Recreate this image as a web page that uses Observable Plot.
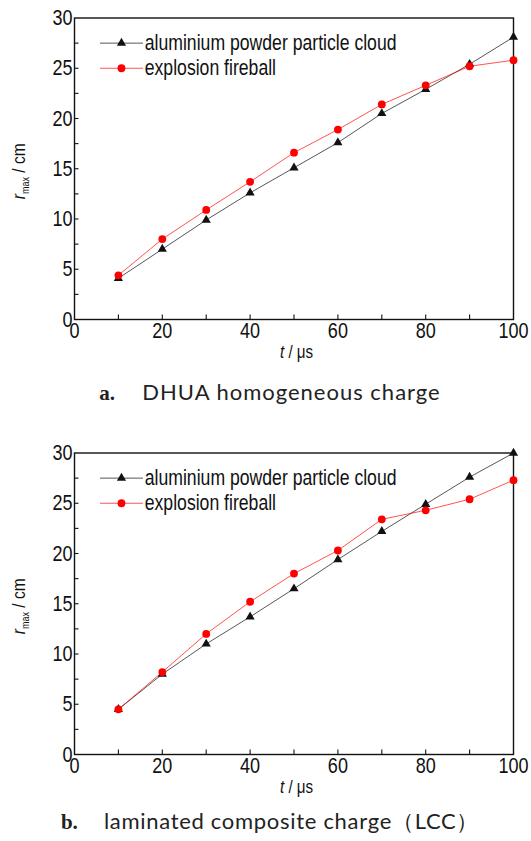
<!DOCTYPE html>
<html><head><meta charset="utf-8">
<script src="https://cdn.jsdelivr.net/npm/d3@7"></script>
<script src="https://cdn.jsdelivr.net/npm/@observablehq/plot@0.6"></script>
<style>
body{margin:0;background:#fff;}
#wrap{position:relative;width:531px;height:841px;overflow:hidden;background:#fff;}
.chart{position:absolute;left:0;}
.cap{position:absolute;left:0;width:540px;text-align:center;white-space:nowrap;font-family:Lato,"Open Sans",sans-serif;font-size:22px;color:#222;letter-spacing:1px;line-height:26px;}
.cap .lab{display:inline-block;width:43px;text-align:left;font-family:"Liberation Serif","Times New Roman",serif;font-weight:bold;letter-spacing:0;font-size:21px;}
</style></head><body>
<div id="wrap">
  <div class="chart" id="chartA" style="top:0px"></div>
  <div class="cap" style="top:379px"><span class="lab">a.</span>DHUA homogeneous charge</div>
  <div class="chart" id="chartB" style="top:435px"></div>
  <div class="cap" style="top:808px;letter-spacing:0.7px"><span class="lab">b.</span>laminated composite charge（LCC）</div>
</div>
<script>
// ---- data ----
const times = [10, 20, 30, 40, 50, 60, 70, 80, 90, 100];
const cloudA = [4.1, 7.0, 9.9, 12.6, 15.1, 17.6, 20.5, 22.9, 25.4, 28.1];
const fireA  = [4.4, 8.0, 10.9, 13.7, 16.6, 18.9, 21.4, 23.3, 25.2, 25.8];
const cloudB = [4.5, 8.0, 11.0, 13.7, 16.5, 19.4, 22.2, 24.9, 27.6, 30.0];
const fireB  = [4.5, 8.2, 12.0, 15.2, 18.0, 20.3, 23.4, 24.3, 25.4, 27.3];
const seriesNames = ["aluminium powder particle cloud", "explosion fireball"];
const xTickLabels = [0, 20, 40, 60, 80, 100];
const yTickLabels = [0, 5, 10, 15, 20, 25, 30];
const xTicks = [10, 20, 30, 40, 50, 60, 70, 80, 90];
const yTicks = [2.5, 5, 7.5, 10, 12.5, 15, 17.5, 20, 22.5, 25, 27.5];

// ---- style / layout ----
const W = 531, H = 370;
const M = {top: 17.5, right: 18, bottom: 51, left: 74};
const frameW = W - M.left - M.right, frameH = H - M.top - M.bottom;
const tickLen = 4.5;
const numFont = '"Liberation Sans",Arial,Helvetica,sans-serif';
const narrow = 0.82; // horizontal squeeze to imitate a narrow sans
const cloudColor = "#111", fireColor = "#ff0000";
// legend placement in data units
const legX = [5.9, 15.5], legMark = 10.7, legText = 16, legY = [27.5, 25.0];

function makeChart(cloud, fire) {
  const pts = (vals) => times.map((t, i) => ({t, v: vals[i]}));
  const c = pts(cloud), f = pts(fire);
  const leg = seriesNames.map((name, i) => ({name, i, y: legY[i]}));
  const legLine = leg.flatMap(d => legX.map(x => ({x, y: d.y, i: d.i})));
  const plot = Plot.plot({
    width: W, height: H,
    marginTop: M.top, marginRight: M.right, marginBottom: M.bottom, marginLeft: M.left,
    style: {fontFamily: numFont, fontSize: "22px", color: "#111", background: "transparent", overflow: "visible"},
    x: {domain: [0, 100]},
    y: {domain: [0, 30]},
    marks: [
      Plot.axisX(xTickLabels, {tickSize: 0, tickPadding: 3, label: null, fontSize: 22}),
      Plot.axisY(yTickLabels, {tickSize: 0, tickPadding: 2, label: null, fontSize: 22}),
      Plot.tickX(xTicks, {x: d => d, insetTop: frameH - tickLen, stroke: "#111", strokeWidth: 1.1}),
      Plot.tickY(yTicks, {y: d => d, insetRight: frameW - tickLen, stroke: "#111", strokeWidth: 1.1}),
      Plot.frame({stroke: "#111", strokeWidth: 1.4}),
      Plot.line(c, {x: "t", y: "v", stroke: "#444", strokeWidth: 0.9}),
      Plot.line(f, {x: "t", y: "v", stroke: fireColor, strokeWidth: 0.8, strokeOpacity: 0.85}),
      Plot.dot(c, {x: "t", y: "v", symbol: "triangle", r: 3.4, fill: cloudColor}),
      Plot.dot(f, {x: "t", y: "v", symbol: "circle", r: 3.9, fill: fireColor}),
      // legend
      Plot.line(legLine.filter(d => d.i === 0), {x: "x", y: "y", stroke: "#444", strokeWidth: 0.9}),
      Plot.line(legLine.filter(d => d.i === 1), {x: "x", y: "y", stroke: fireColor, strokeWidth: 0.8, strokeOpacity: 0.85}),
      Plot.dot(leg.filter(d => d.i === 0), {x: () => legMark, y: "y", symbol: "triangle", r: 3.4, fill: cloudColor}),
      Plot.dot(leg.filter(d => d.i === 1), {x: () => legMark, y: "y", symbol: "circle", r: 3.9, fill: fireColor}),
      Plot.text(leg, {x: () => legText, y: "y", text: "name", textAnchor: "start", fontSize: 21.5, fill: "#111"})
    ]
  });
  const svg = d3.select(plot);
  // x axis title: "t / μs"
  const xt = svg.append("text")
    .attr("transform", `translate(${280},${H - 12})`)
    .attr("font-family", numFont).attr("font-size", 18.5).attr("fill", "#111")
    .attr("text-anchor", "start");
  xt.append("tspan").attr("font-style", "italic").text("t");
  xt.append("tspan").text(" / μs");
  // y axis title: "r_max / cm"
  const yt = svg.append("text")
    .attr("transform", `translate(${25},${M.top + frameH / 2 + 3}) rotate(-90)`)
    .attr("font-family", numFont).attr("font-size", 19).attr("fill", "#111")
    .attr("text-anchor", "middle");
  yt.append("tspan").attr("font-style", "italic").text("r");
  yt.append("tspan").attr("font-size", 11).attr("dy", 4).text("max");
  yt.append("tspan").attr("dy", -4).text(" / cm");
  // squeeze every text horizontally in its own frame to imitate a narrow typeface
  svg.selectAll("text").each(function() {
    const el = d3.select(this);
    const tr = el.attr("transform") || "";
    el.attr("transform", `${tr} scale(${narrow},1)`);
  });
  return plot;
}

document.getElementById("chartA").appendChild(makeChart(cloudA, fireA));
document.getElementById("chartB").appendChild(makeChart(cloudB, fireB));
</script>
</body></html>
